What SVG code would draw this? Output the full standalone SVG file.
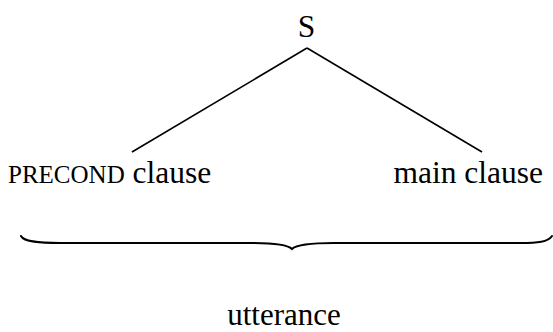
<svg xmlns="http://www.w3.org/2000/svg" width="553" height="332" viewBox="0 0 553 332">
<defs>
<style type="text/css">
.edge{stroke:#000;stroke-width:1.6;fill:none}
.brace{stroke:#000;stroke-width:2;fill:none;stroke-linecap:round}
</style>
</defs>
<rect width="553" height="332" fill="#fff"/>
<g id="connectors">
<line class="edge" x1="307" y1="48" x2="132" y2="152" stroke="#000" stroke-width="1.6"/>
<line class="edge" x1="307" y1="48" x2="482" y2="152" stroke="#000" stroke-width="1.6"/>
</g>
<g font-family="Liberation Serif, Times New Roman, serif" fill="#000">
<g id="node-S"><text font-size="31.5" x="306.5" y="37" text-anchor="middle">S</text></g>
<g id="node-precond"><text x="8" y="183"><tspan font-size="25">PRECOND</tspan><tspan font-size="31.5"> clause</tspan></text></g>
<g id="node-main"><text font-size="31.5" x="543" y="183" text-anchor="end">main clause</text></g>
<g id="node-utterance"><text x="284" y="325" font-size="31" text-anchor="middle">utterance</text></g>
</g>
<g id="brace"><path class="brace" fill="none" stroke="#000" stroke-width="2" d="M21,236 C24,242 40,243 60,243 L250,243 C275,243 288,245 292,249 C296,245 309,243 334,243 L520,243 C538,243 548,242 552,236"/></g>
</svg>
